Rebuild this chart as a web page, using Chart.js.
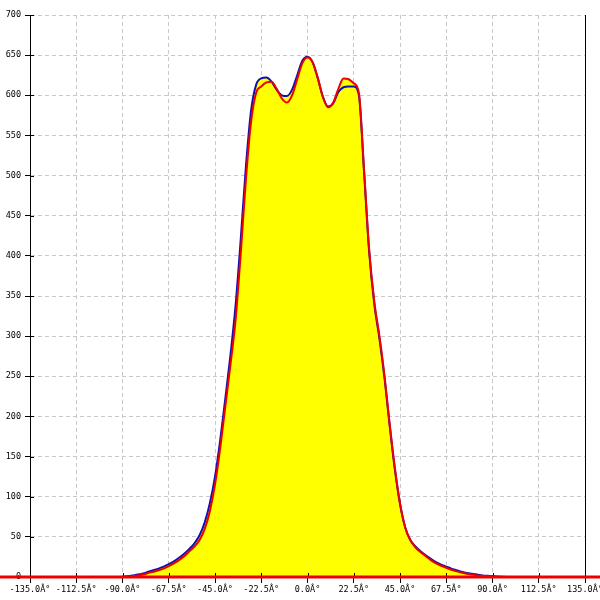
<!DOCTYPE html>
<html lang="en">
<head>
  <meta charset="UTF-8">
  <title>Angular profile</title>
  <script src="https://cdn.jsdelivr.net/npm/chart.js"></script>
  <style>
    html, body { margin: 0; padding: 0; background: #fff; }
    #wrap { width: 600px; height: 600px; }
  </style>
</head>
<body>
  <div id="wrap"><canvas id="profileChart" width="600" height="600"></canvas></div>

  <script>
    // angles (deg) where the two curves were sampled
    const angles = [
      -90, -87.5, -85, -82.5, -80, -77.5, -75, -72.5, -70, -67.5,
      -65, -62.5, -60, -57.5, -55, -52.5, -50, -47.5, -45, -42.5,
      -40, -37.5, -35, -32.5, -30, -27.5, -25, -22.5, -20, -17.5,
      -15, -12.5, -10, -7.5, -5, -2.5, 0, 2.5, 5, 7.5,
      10, 12.5, 15, 17.5, 20, 22.5, 25, 27.5, 30, 32.5,
      35, 37.5, 40, 42.5, 45, 47.5, 50, 52.5, 55, 57.5,
      60, 62.5, 65, 67.5, 70, 72.5, 75, 77.5, 80, 82.5,
      85, 87.5, 90, 92.5, 95, 97.5
    ];
    const blueValues = [
      0, 1, 2, 3, 4.5, 6.5, 8.5, 10.5, 13, 16,
      19.5, 24, 29, 35, 42, 52, 68, 92, 125, 170,
      222, 276, 338, 420, 510, 580, 613, 621, 622, 617,
      607, 600, 599, 607, 625, 643, 648, 641, 621, 598,
      586, 590, 604, 610, 611, 611, 600, 505, 405, 340,
      297, 247, 188, 134, 91, 62, 46, 38, 32, 27,
      22.5, 18.5, 15.5, 13, 10.5, 8.5, 6.5, 5, 4, 3,
      2, 1.5, 1, 0.5, 0.3, 0
    ];
    const redValues = [
      0, 0.5, 1, 2, 3, 5, 6.5, 8.5, 10.5, 13.5,
      17, 21, 26, 32, 38, 46, 60, 82, 115, 160,
      212, 264, 320, 402, 494, 566, 603, 611, 616, 617,
      608, 596, 591, 600, 620, 640, 647, 641, 622, 598,
      585, 591, 608, 621, 620, 615, 603, 508, 408, 343,
      300, 250, 190, 136, 92, 62, 46, 37, 31, 26,
      21, 17, 14, 11.5, 9, 7, 5.5, 4, 3, 2,
      1.5, 1, 0.5, 0, 0, 0
    ];
    const xTickValues = [-135, -112.5, -90, -67.5, -45, -22.5, 0, 22.5, 45, 67.5, 90, 112.5, 135];
    const xTickLabels = ['-135.0Â°', '-112.5Â°', '-90.0Â°', '-67.5Â°', '-45.0Â°', '-22.5Â°', '0.0Â°',
                         '22.5Â°', '45.0Â°', '67.5Â°', '90.0Â°', '112.5Â°', '135.0Â°'];
    const yTickValues = [0, 50, 100, 150, 200, 250, 300, 350, 400, 450, 500, 550, 600, 650, 700];

    const toPoints = vals => angles.map((a, i) => ({ x: a, y: vals[i] }));

    // red zero line across the whole picture + small ticks crossing the axes
    const extras = {
      id: 'extras',
      afterDatasetsDraw(chart) {
        const ctx = chart.ctx;
        const x = chart.scales.x, y = chart.scales.y;
        ctx.save();
        ctx.strokeStyle = '#000';
        ctx.lineWidth = 1;
        ctx.beginPath();
        yTickValues.forEach(v => {
          const py = Math.round(y.getPixelForValue(v)) + 0.5;
          ctx.moveTo(x.left, py); ctx.lineTo(x.left + 4, py);
        });
        xTickValues.forEach(v => {
          const px = Math.round(x.getPixelForValue(v)) + 0.5;
          ctx.moveTo(px, y.bottom - 4); ctx.lineTo(px, y.bottom);
        });
        ctx.stroke();
        const y0 = y.getPixelForValue(0);
        ctx.strokeStyle = '#ee0000';
        ctx.lineWidth = 3;
        ctx.beginPath();
        ctx.moveTo(0, y0);
        ctx.lineTo(chart.width, y0);
        ctx.stroke();
        ctx.restore();
      }
    };

    const tickFont = { family: 'DejaVu Sans Mono', size: 8.5 };

    new Chart(document.getElementById('profileChart'), {
      type: 'line',
      data: {
        datasets: [
          {
            label: 'red', data: toPoints(redValues), borderColor: '#ee0000', borderWidth: 2,
            backgroundColor: '#ffff00', fill: 'origin', pointRadius: 0, cubicInterpolationMode: 'monotone'
          },
          {
            label: 'blue', data: toPoints(blueValues), borderColor: '#1010b0', borderWidth: 2,
            backgroundColor: '#ffff00', fill: 'origin', pointRadius: 0, cubicInterpolationMode: 'monotone'
          }
        ]
      },
      options: {
        responsive: false,
        animation: false,
        layout: { padding: { top: 15, right: 15, left: 0, bottom: 0 } },
        plugins: {
          legend: { display: false },
          tooltip: { enabled: false },
          filler: { drawTime: 'beforeDatasetsDraw' }
        },
        scales: {
          x: {
            type: 'linear', min: -135, max: 135,
            afterBuildTicks: s => { s.ticks = xTickValues.map(v => ({ value: v })); },
            afterFit: s => { s.height = 23; s.paddingLeft = 0; s.paddingRight = 0; },
            ticks: {
              autoSkip: false, maxRotation: 0, padding: 2, color: '#000', font: tickFont,
              callback: (v, i) => xTickLabels[i]
            },
            grid: { color: '#c8c8c8', tickColor: '#000', tickLength: 6, tickBorderDash: [] },
            border: { color: '#000', dash: [4, 3] }
          },
          y: {
            min: 0, max: 700,
            afterBuildTicks: s => { s.ticks = yTickValues.map(v => ({ value: v })); },
            afterFit: s => { s.width = 30; },
            ticks: { padding: 4, color: '#000', font: tickFont },
            grid: { color: '#c8c8c8', tickColor: '#000', tickLength: 5, tickBorderDash: [] },
            border: { color: '#000', dash: [4, 3] }
          },
          y2: {
            position: 'right', min: 0, max: 700,
            afterFit: s => { s.width = 0; },
            ticks: { display: false },
            grid: { drawOnChartArea: false, drawTicks: false },
            border: { color: '#000' }
          }
        }
      },
      plugins: [extras]
    });
  </script>
</body>
</html>
